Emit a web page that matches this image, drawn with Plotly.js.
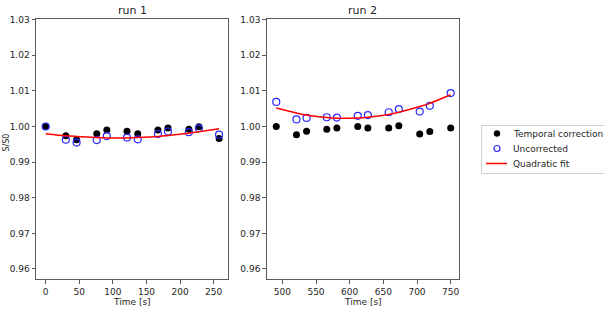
<!DOCTYPE html>
<html>
<head>
<meta charset="utf-8">
<script src="https://cdn.plot.ly/plotly-3.0.1.min.js"></script>
<style>
  html, body { margin: 0; padding: 0; background: #fff; }
  #chart { width: 604px; height: 312px; }
</style>
</head>
<body>
<div id="chart"></div>
<script>
// Run 1
const run1Time = [0, 30, 46, 76, 91, 121, 137, 167, 182, 213, 228, 258];
const run1Corrected = [1.0000, 0.9974, 0.9963, 0.9980, 0.9990, 0.9987, 0.9980, 0.9990, 0.9996, 0.9992, 0.9999, 0.9966];
const run1Uncorrected = [1.0000, 0.9963, 0.9955, 0.9962, 0.9973, 0.9969, 0.9964, 0.9979, 0.9986, 0.9984, 0.9995, 0.9977];
const run1Fit = [0.9980, 0.9974, 0.9972, 0.9969, 0.9968, 0.9968, 0.9969, 0.9972, 0.9975, 0.9981, 0.9985, 0.9994];

// Run 2
const run2Time = [491, 521, 536, 566, 581, 612, 627, 658, 673, 704, 719, 750];
const run2Corrected = [1.0000, 0.9977, 0.9987, 0.9992, 0.9996, 1.0000, 0.9996, 0.9996, 1.0002, 0.9979, 0.9986, 0.9996];
const run2Uncorrected = [1.0069, 1.0020, 1.0024, 1.0026, 1.0025, 1.0030, 1.0032, 1.0040, 1.0049, 1.0042, 1.0058, 1.0094];
const run2Fit = [1.0052, 1.0038, 1.0032, 1.0025, 1.0023, 1.0024, 1.0026, 1.0034, 1.0040, 1.0056, 1.0065, 1.0089];

// Shared tick labels
const yTicks = [0.96, 0.97, 0.98, 0.99, 1.00, 1.01, 1.02, 1.03];
const x1Ticks = [0, 50, 100, 150, 200, 250];
const x2Ticks = [500, 550, 600, 650, 700, 750];
const panelTitles = ['run 1', 'run 2'];
const xLabel = 'Time [s]';
const yLabel = 'S/S0';
const seriesNames = ['Temporal correction', 'Uncorrected', 'Quadratic fit'];

const W = 604, H = 312;
const px = v => v / W;
const py = v => 1 - v / H;

const FONT = 'DejaVu Sans, Liberation Sans, sans-serif';
const TXT = '#262626';
const AX = '#5a5a5a';

function panel(t, corr, unc, fit, xa, ya) {
  return [
    { x: t, y: corr, xaxis: xa, yaxis: ya, type: 'scatter', mode: 'markers',
      name: seriesNames[0], showlegend: false,
      marker: { color: '#000000', size: 7, symbol: 'circle' } },
    { x: t, y: unc, xaxis: xa, yaxis: ya, type: 'scatter', mode: 'markers',
      name: seriesNames[1], showlegend: false,
      marker: { color: '#2a2aff', size: 7, symbol: 'circle-open', line: { width: 1.2, color: '#2a2aff' } } },
    { x: t, y: fit, xaxis: xa, yaxis: ya, type: 'scatter', mode: 'lines',
      name: seriesNames[2], showlegend: false,
      line: { color: '#ff0000', width: 1.5, shape: 'spline', smoothing: 0.8 } }
  ];
}

const data = [
  ...panel(run1Time, run1Corrected, run1Uncorrected, run1Fit, 'x', 'y'),
  ...panel(run2Time, run2Corrected, run2Uncorrected, run2Fit, 'x2', 'y2')
];

const axisBase = {
  showline: true, mirror: true, linecolor: AX, linewidth: 1,
  ticks: 'outside', ticklen: 3.5, tickwidth: 1, tickcolor: AX,
  showgrid: false, zeroline: false,
  tickfont: { family: FONT, size: 9, color: TXT }
};

const yRange = [0.9571, 1.0301];

const layout = {
  width: W, height: H,
  margin: { l: 0, r: 0, t: 0, b: 0, pad: 0 },
  paper_bgcolor: '#ffffff', plot_bgcolor: '#ffffff',
  showlegend: false,
  xaxis: Object.assign({}, axisBase, {
    domain: [px(36), px(228.3)], range: [-14.4, 271.7],
    tickvals: x1Ticks, anchor: 'y'
  }),
  yaxis: Object.assign({}, axisBase, {
    domain: [py(279.3), py(19.3)], range: yRange,
    tickvals: yTicks, tickformat: '.2f', anchor: 'x'
  }),
  xaxis2: Object.assign({}, axisBase, {
    domain: [px(266.7), px(458.7)], range: [476.8, 761.9],
    tickvals: x2Ticks, anchor: 'y2'
  }),
  yaxis2: Object.assign({}, axisBase, {
    domain: [py(279.3), py(19.3)], range: yRange,
    tickvals: yTicks, tickformat: '.2f', anchor: 'x2'
  }),
  annotations: [
    { text: panelTitles[0], xref: 'paper', yref: 'paper', x: px(132.2), y: py(10.5),
      xanchor: 'center', yanchor: 'middle', showarrow: false,
      font: { family: FONT, size: 11, color: TXT } },
    { text: panelTitles[1], xref: 'paper', yref: 'paper', x: px(362.7), y: py(10.5),
      xanchor: 'center', yanchor: 'middle', showarrow: false,
      font: { family: FONT, size: 11, color: TXT } },
    { text: xLabel, xref: 'paper', yref: 'paper', x: px(132.2), y: py(301.5),
      xanchor: 'center', yanchor: 'middle', showarrow: false,
      font: { family: FONT, size: 9, color: TXT } },
    { text: xLabel, xref: 'paper', yref: 'paper', x: px(362.7), y: py(301.5),
      xanchor: 'center', yanchor: 'middle', showarrow: false,
      font: { family: FONT, size: 9, color: TXT } },
    { text: yLabel, xref: 'paper', yref: 'paper', x: 0, y: py(143),
      xanchor: 'left', yanchor: 'middle', textangle: -90, showarrow: false,
      font: { family: FONT, size: 8, color: TXT } },
    // legend entries
    { text: seriesNames[0], xref: 'paper', yref: 'paper', x: px(511), y: py(133.5),
      xanchor: 'left', yanchor: 'middle', showarrow: false,
      font: { family: FONT, size: 9, color: TXT } },
    { text: seriesNames[1], xref: 'paper', yref: 'paper', x: px(511), y: py(148.5),
      xanchor: 'left', yanchor: 'middle', showarrow: false,
      font: { family: FONT, size: 9, color: TXT } },
    { text: seriesNames[2], xref: 'paper', yref: 'paper', x: px(511), y: py(163.5),
      xanchor: 'left', yanchor: 'middle', showarrow: false,
      font: { family: FONT, size: 9, color: TXT } }
  ],
  shapes: [
    // legend frame
    { type: 'rect', xref: 'paper', yref: 'paper',
      x0: px(481.5), x1: px(620), y0: py(125.5), y1: py(173.5),
      line: { color: '#d0d0d0', width: 1 }, fillcolor: 'rgba(255,255,255,0.8)', layer: 'above' },
    // legend symbols
    { type: 'circle', xref: 'paper', yref: 'paper',
      x0: px(494), x1: px(500), y0: py(130.5), y1: py(136.5),
      line: { color: '#000000', width: 0.5 }, fillcolor: '#000000', layer: 'above' },
    { type: 'circle', xref: 'paper', yref: 'paper',
      x0: px(494), x1: px(500), y0: py(145.5), y1: py(151.5),
      line: { color: '#2a2aff', width: 1.2 }, fillcolor: 'rgba(0,0,0,0)', layer: 'above' },
    { type: 'line', xref: 'paper', yref: 'paper',
      x0: px(486), x1: px(507), y0: py(163.5), y1: py(163.5),
      line: { color: '#ff0000', width: 1.5 }, layer: 'above' }
  ]
};

Plotly.newPlot('chart', data, layout, { staticPlot: true, displayModeBar: false });
</script>
</body>
</html>
